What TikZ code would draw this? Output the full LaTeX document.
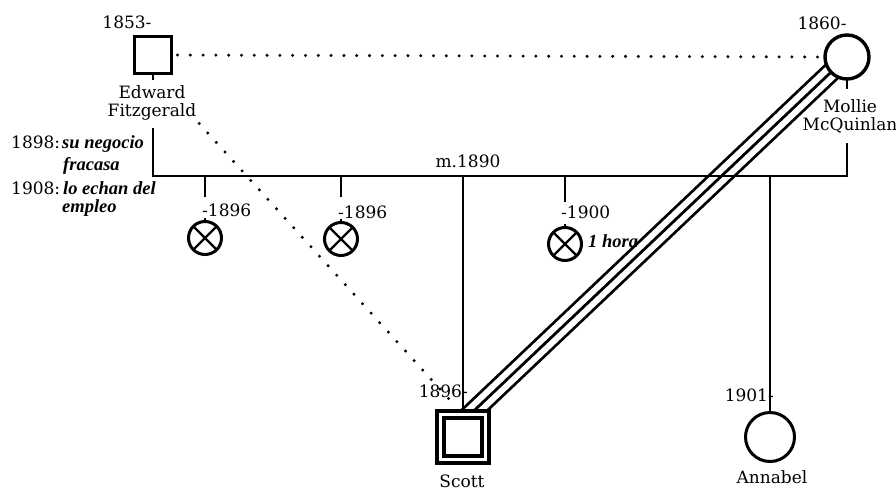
\documentclass[tikz,border=0pt]{standalone}
\usepackage{fontspec}
\setmainfont{DejaVu Serif}
\newfontfamily\notefont{Liberation Serif}
\usetikzlibrary{positioning,calc,backgrounds}

\begin{document}
\begin{tikzpicture}[x=1pt, y=-1pt,
    every node/.style={font=\fontsize{17}{18}\selectfont, inner sep=0pt},
    person/.style={draw, fill=white, line width=3.4pt, outer sep=0pt},
    male/.style={person, rectangle, minimum size=37pt},
    female/.style={person, circle, minimum size=44pt},
    lost/.style={person, circle, line width=3pt, minimum size=33pt,
        path picture={\draw[line width=2.4pt]
            (path picture bounding box.north west) -- (path picture bounding box.south east)
            (path picture bounding box.north east) -- (path picture bounding box.south west);}},
    line/.style={line width=2.6pt},
    dots/.style={line width=3.3pt, line cap=round, dash pattern=on 0pt off 12.8pt},
    note/.style={font=\notefont\bfseries\itshape\fontsize{18.5}{19}\selectfont, anchor=base west},
    year/.style={anchor=base west}]
    \useasboundingbox (0,0) rectangle (896,492);

    % --- Parents ---
    \node[male] (ed) at (153,55) {};
    \node (edyear) at (127,22) {1853-};
    \node[align=center] (edname) at (152,103) {Edward\\Fitzgerald};
    \node[female] (mol) at (847,57) {};
    \node (molyear) at (822,23) {1860-};
    \node[align=center] (molname) at (850,116) {Mollie\\McQuinlan};

    % --- Notes on the father ---
    \node[year] (y1898) at (11,148) {1898:};
    \node[note] (n1898a) at (62,148) {su negocio};
    \node[note] (n1898b) at (63,170) {fracasa};
    \node[year] (y1908) at (11,194) {1908:};
    \node[note] (n1908a) at (63,194) {lo echan del};
    \node[note] (n1908b) at (62,212) {empleo};

    % --- Children ---
    \node[lost] (k1) at (205,238) {};
    \node[lost] (k2) at (341,239) {};
    \node[lost] (k3) at (565,244) {};
    \node[male, double, double distance=3pt, line width=3.8pt, minimum size=45pt] (scott) at (463,437) {};
    \node[female, line width=3pt, minimum size=49pt] (ann) at (770,437) {};
    \node[anchor=west] (k1year) at (202,210) {-1896};
    \node[anchor=west] (k2year) at (338,212) {-1896};
    \node[anchor=west] (k3year) at (561,212) {-1900};
    \node[note, anchor=west] (k3note) at (588,241) {1 hora};
    \node[anchor=east] (scottyear) at (468,391) {1896-};
    \node (scottname) at (462,481) {Scott};
    \node[anchor=east] (annyear) at (774,395) {1901-};
    \node (annname) at (772,477) {Annabel};
    \node (marriage) at (468,161) {m.1890};

    % Sibship line
    \coordinate (sib) at (0,176);
    \draw[line] (ed.south) -- ++(0,7);
    \draw[line] (mol.south) -- ++(0,10);
    \draw[line] (ed |- 0,128) -- (ed |- sib) -- (mol |- sib) -- (mol |- 0,143);
    \foreach \k/\y in {k1/197, k2/197, k3/202} {
        \draw[line] (\k |- sib) -- (\k |- 0,\y);
        \draw[line] (\k.north) -- ++(0,-4);
    }
    \draw[line] (scott |- sib) -- ([yshift=5pt]scott.north);
    \draw[line] (ann |- sib) -- (ann.north);

    % Dotted ties
    \draw[dots, shorten <=6pt, shorten >=6pt] (ed.east) -- (mol.west);
    \draw[dots, shorten <=4pt, shorten >=10pt] (edname.south east) -- (scott.north);

    % Triple line mother -- Scott
    \begin{scope}[on background layer]
        \draw[line width=2.8pt, double, double distance=15pt, shorten >=-8pt] (mol.center) -- ($(scott.north)+(7,0)$);
        \draw[line width=2.8pt, shorten >=-8pt] (mol.center) -- ($(scott.north)+(7,0)$);
    \end{scope}
\end{tikzpicture}
\end{document}
